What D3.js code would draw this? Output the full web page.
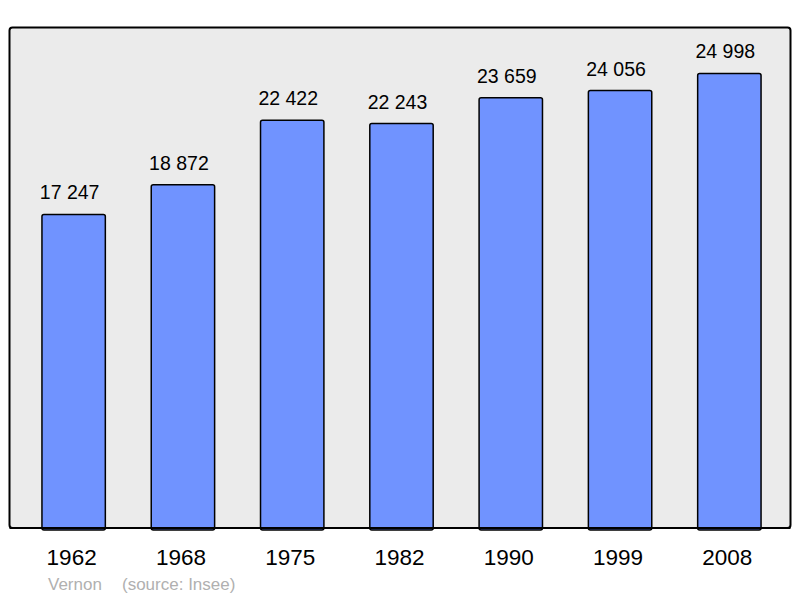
<!DOCTYPE html>
<html><head><meta charset="utf-8">
<script src="https://cdn.jsdelivr.net/npm/d3@7"></script>
<style>body{margin:0;background:#fff}</style>
</head><body>
<script>
const years = ["1962","1968","1975","1982","1990","1999","2008"];
const population = [17247,18872,22422,22243,23659,24056,24998];
const labels = ["17 247","18 872","22 422","22 243","23 659","24 056","24 998"];
const townName = "Vernon";
const sourceText = "(source: Insee)";

const W=800,H=598;
const FONT="Liberation Sans, Arial, sans-serif";
const svg=d3.select("body").append("svg").attr("width",W).attr("height",H);
svg.append("rect").attr("x",9.5).attr("y",27.5).attr("width",781).attr("height",500.5)
  .attr("rx",3).attr("fill","#ebebeb").attr("stroke","#000").attr("stroke-width",2);
const x=d3.scaleBand().domain(years).range([19,784]).paddingInner(0.42).paddingOuter(0.21);
const y=d3.scaleLinear().domain([0,27500]).range([528,28]);
const g=svg.append("g");
g.selectAll("rect.bar").data(population).join("rect").attr("class","bar")
  .attr("x",(d,i)=>x(years[i])).attr("y",d=>y(d))
  .attr("width",x.bandwidth()).attr("height",d=>y(0)-y(d)+2)
  .attr("rx",2).attr("fill","#7093ff").attr("stroke","#000").attr("stroke-width",1.5);
svg.append("line").attr("x1",9.5).attr("x2",790.5).attr("y1",528).attr("y2",528).attr("stroke","#000").attr("stroke-width",2);
g.selectAll("text.val").data(population).join("text").attr("class","val")
  .attr("x",(d,i)=>x(years[i])+x.bandwidth()/2-4).attr("y",d=>y(d)-15)
  .attr("text-anchor","middle").attr("font-family",FONT)
  .attr("font-size",19.5).attr("fill","#000").text((d,i)=>labels[i]);
g.selectAll("text.yr").data(years).join("text").attr("class","yr")
  .attr("x",d=>x(d)+x.bandwidth()/2-2).attr("y",564.5)
  .attr("text-anchor","middle").attr("font-family",FONT)
  .attr("font-size",22.5).attr("fill","#000").text(d=>d);
svg.append("text").attr("x",48).attr("y",590).attr("font-family",FONT)
  .attr("font-size",17).attr("fill","#b0b0b0").text(townName);
svg.append("text").attr("x",122).attr("y",590).attr("font-family",FONT)
  .attr("font-size",17).attr("fill","#b0b0b0").text(sourceText);
</script>
</body></html>
